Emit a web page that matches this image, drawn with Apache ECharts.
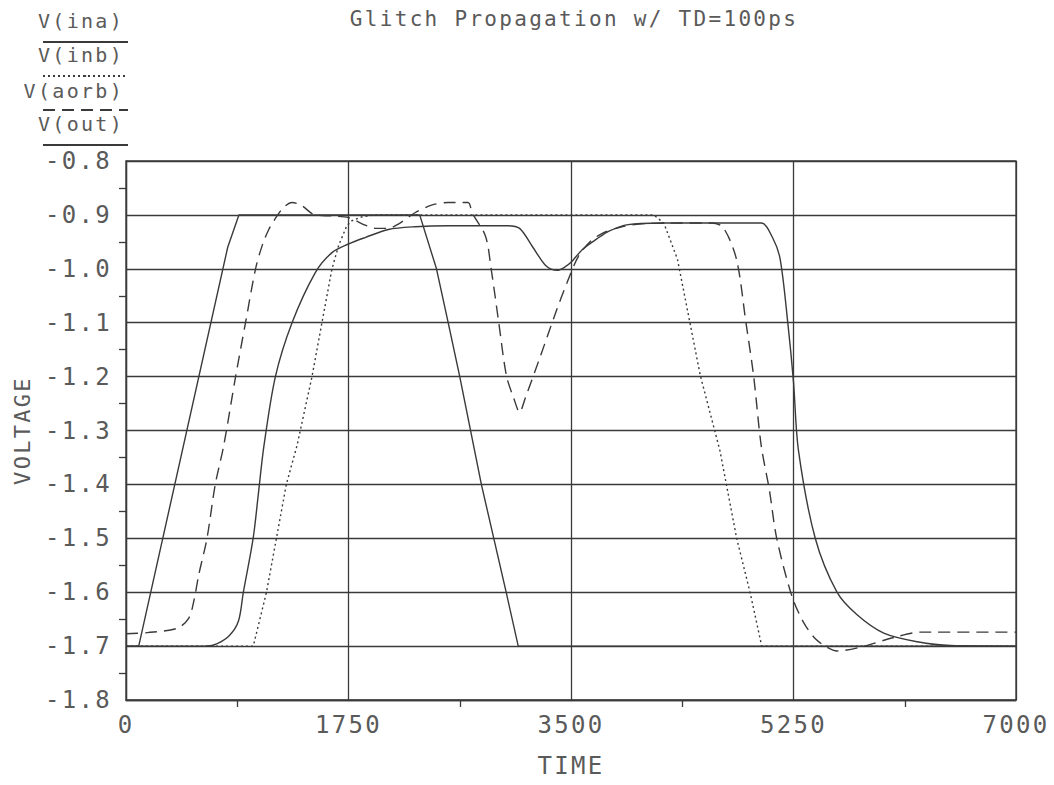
<!DOCTYPE html>
<html><head><meta charset="utf-8">
<script src="https://cdn.jsdelivr.net/npm/echarts@6/dist/echarts.min.js"></script>
<style>
html,body{margin:0;padding:0;background:#fff;}
#chart{width:1054px;height:785px;}
#chart svg text{letter-spacing:2.3px;}
</style></head><body><div id="chart"></div>
<script>
// ---- data ----
const titleText = 'Glitch Propagation w/ TD=100ps';
const seriesNames = ['V(ina)', 'V(inb)', 'V(aorb)', 'V(out)'];
const xTicks = [0, 1750, 3500, 5250, 7000];
const xTickLabels = ['0', '1750', '3500', '5250', '7000'];
const yTicks = [-1.8, -1.7, -1.6, -1.5, -1.4, -1.3, -1.2, -1.1, -1.0, -0.9, -0.8];
const yTickLabels = ['-1.8', '-1.7', '-1.6', '-1.5', '-1.4', '-1.3', '-1.2', '-1.1', '-1.0', '-0.9', '-0.8'];

const inaT = [0, 100, 800, 888, 2310, 2442, 2534, 2625, 2795, 2990, 3085, 7000];
const inaV = [-1.7, -1.7, -0.96, -0.9, -0.9, -1.0, -1.1, -1.2, -1.4, -1.6, -1.7, -1.7];

const inbT = [0, 1001, 1105, 1183, 1261, 1345, 1463, 1541, 1620, 1672, 1737, 1776, 1850, 1950, 4150, 4230, 4337, 4517, 4671, 4803, 4908, 5000, 7000];
const inbV = [-1.7, -1.7, -1.6, -1.5, -1.4, -1.328, -1.2, -1.1, -1.0, -0.957, -0.92, -0.911, -0.904, -0.9, -0.9, -0.915, -0.982, -1.198, -1.337, -1.5, -1.6, -1.7, -1.7];

const aorbT = [0, 169, 403, 494, 533, 572, 637, 702, 767, 862, 940, 1019, 1071, 1123, 1188, 1240, 1306, 1384, 1476, 1620, 1750, 1881, 1959, 2064, 2142, 2273, 2403, 2534, 2690, 2722, 2827, 2872, 2932, 2992, 3051, 3096, 3140, 3261, 3380, 3470, 3560, 3650, 3739, 3900, 4100, 4600, 4696, 4801, 4876, 4936, 4996, 5060, 5118, 5237, 5329, 5420, 5513, 5592, 5776, 6039, 6250, 7000];
const aorbV = [-1.677, -1.675, -1.667, -1.648, -1.617, -1.568, -1.5, -1.4, -1.33, -1.2, -1.1, -1.0, -0.957, -0.927, -0.902, -0.886, -0.877, -0.883, -0.899, -0.902, -0.905, -0.919, -0.925, -0.925, -0.917, -0.896, -0.882, -0.877, -0.877, -0.896, -0.939, -1.0, -1.1, -1.198, -1.241, -1.266, -1.24, -1.161, -1.081, -1.025, -0.976, -0.95, -0.935, -0.922, -0.916, -0.915, -0.923, -0.982, -1.1, -1.198, -1.328, -1.41, -1.5, -1.607, -1.656, -1.686, -1.702, -1.709, -1.702, -1.684, -1.674, -1.674];

const outT = [0, 611, 689, 806, 884, 923, 1000, 1040, 1084, 1175, 1306, 1489, 1620, 1750, 1881, 2064, 2273, 2534, 3000, 3096, 3200, 3305, 3390, 3450, 3500, 3590, 3700, 3799, 3949, 4200, 4996, 5085, 5145, 5205, 5250, 5289, 5421, 5592, 5750, 5960, 6223, 6486, 7000];
const outV = [-1.7, -1.7, -1.698, -1.682, -1.654, -1.6, -1.5, -1.42, -1.33, -1.2, -1.1, -1.007, -0.97, -0.954, -0.942, -0.927, -0.922, -0.92, -0.92, -0.925, -0.96, -0.995, -1.003, -0.997, -0.988, -0.964, -0.945, -0.93, -0.918, -0.915, -0.915, -0.942, -0.982, -1.1, -1.21, -1.337, -1.5, -1.6, -1.642, -1.676, -1.692, -1.699, -1.7];

// ---- chart ----
const zip = (t, v) => t.map((x, i) => [x, v[i]]);
const ink = '#3a3a3a';
const textInk = '#5a5a5a';
const font = 'DejaVu Sans Mono';

const chart = echarts.init(document.getElementById('chart'), null, {renderer: 'svg'});

const lineDefs = [
  {t: inaT, v: inaV, type: 'solid', smooth: false},
  {t: inbT, v: inbV, type: [2, 3], smooth: false},
  {t: aorbT, v: aorbV, type: [12, 7], smooth: 0.3},
  {t: outT, v: outV, type: 'solid', smooth: 0.3}
];
const legendLineTops = [41, 75, 109, 144];
const legendLabelTops = [11, 45, 81, 114];

const option = {
  animation: false,
  backgroundColor: '#ffffff',
  textStyle: {fontFamily: font, color: textInk},
  title: [
    {text: titleText, left: 574, top: 8, padding: 0, textAlign: 'center',
     textStyle: {fontFamily: font, fontSize: 21, fontWeight: 'normal', color: textInk}}
  ].concat(seriesNames.map((n, i) => ({
    text: n, left: 124, top: legendLabelTops[i], padding: 0, textAlign: 'right',
    textStyle: {fontFamily: font, fontSize: 20, fontWeight: 'normal', color: textInk}
  }))),
  legend: seriesNames.map((n, i) => ({
    data: [n], left: 42, top: legendLineTops[i], padding: 0, itemGap: 0,
    itemWidth: 85, itemHeight: 2, selectedMode: false,
    formatter: () => '',
    itemStyle: {borderWidth: 0}
  })),
  grid: {left: 126, right: 38, top: 161, bottom: 85, show: true,
         borderColor: ink, borderWidth: 1.3, containLabel: false, outerBoundsMode: 'none'},
  xAxis: {
    type: 'value', min: 0, max: 7000, interval: 1750,
    name: 'TIME', nameLocation: 'middle', nameGap: 54,
    nameTextStyle: {fontFamily: font, fontSize: 24, color: textInk},
    axisLine: {show: true, lineStyle: {color: ink, width: 1.3}},
    axisTick: {show: false},
    minorTick: {show: true, splitNumber: 2, length: 7, lineStyle: {color: ink, width: 1.3}},
    splitLine: {show: true, lineStyle: {color: ink, width: 1.3}},
    axisLabel: {fontFamily: font, fontSize: 24, color: textInk, margin: 13,
      formatter: v => xTickLabels[xTicks.indexOf(v)] ?? ''}
  },
  yAxis: {
    type: 'value', min: -1.8, max: -0.8, interval: 0.1,
    name: 'VOLTAGE', nameLocation: 'middle', nameGap: 93, nameRotate: 90,
    nameTextStyle: {fontFamily: font, fontSize: 22, color: textInk},
    axisLine: {show: true, lineStyle: {color: ink, width: 1.3}},
    axisTick: {show: false},
    minorTick: {show: true, splitNumber: 2, length: 7, lineStyle: {color: ink, width: 1.3}},
    splitLine: {show: true, lineStyle: {color: ink, width: 1.3}},
    axisLabel: {fontFamily: font, fontSize: 24, color: textInk, margin: 14,
      formatter: v => yTickLabels[Math.round((v + 1.8) * 10)] ?? ''}
  },
  series: lineDefs.map((d, i) => ({
    name: seriesNames[i], type: 'line', data: zip(d.t, d.v),
    showSymbol: false, symbol: 'none', smooth: d.smooth, silent: true,
    lineStyle: {color: ink, width: 1.4, type: d.type},
    itemStyle: {color: ink},
    emphasis: {disabled: true}
  }))
};
chart.setOption(option);
</script></body></html>
